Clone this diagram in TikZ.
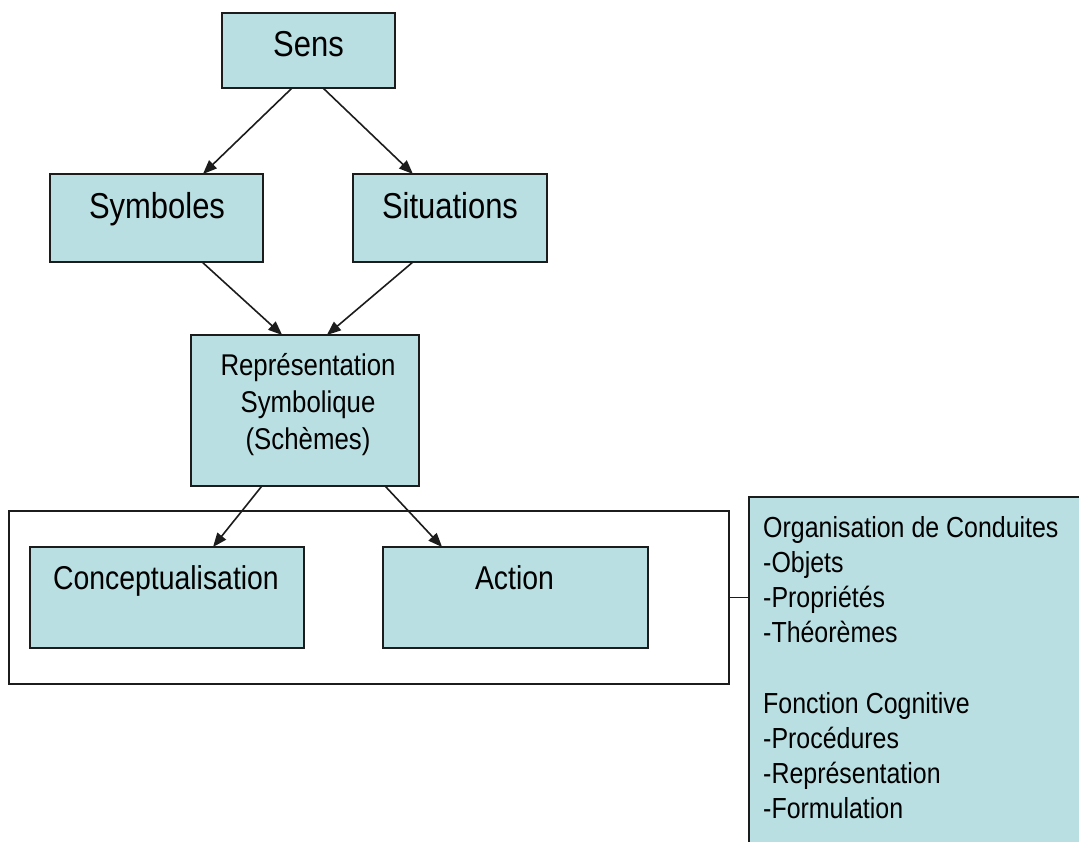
\documentclass[tikz,border=0pt]{standalone}
\usepackage{fontspec}
\newfontfamily\diagfont{Liberation Sans}[FakeStretch=0.86]
\usetikzlibrary{arrows.meta,calc}
\definecolor{boxfill}{RGB}{185,223,226}
\definecolor{edge}{RGB}{28,28,28}
\begin{document}
\begin{tikzpicture}[x=1pt,y=-1pt,
  box/.style={rectangle, draw=edge, line width=1.6pt, fill=boxfill, inner sep=0pt, outer sep=0pt},
  frame/.style={rectangle, draw=edge, line width=1.6pt, inner sep=0pt, outer sep=0pt},
  big/.style={font=\diagfont\fontsize{36}{40}\selectfont, inner sep=0pt, anchor=base},
  mid/.style={font=\diagfont\fontsize{33}{37}\selectfont, inner sep=0pt, anchor=base},
  small/.style={font=\diagfont\fontsize{30}{35}\selectfont, inner sep=0pt, anchor=base},
  list/.style={font=\diagfont\fontsize{29}{35}\selectfont, inner sep=0pt, anchor=base west},
  link/.style={draw=edge, line width=1.6pt, -{Triangle[length=14pt,width=11pt]}},
  tie/.style={draw=edge, line width=1.6pt}
]
\useasboundingbox (0,0) rectangle (1079,841);
\clip (0,0) rectangle (1079,841);

% boxes
\node[box, minimum width=173pt, minimum height=75pt]  (sens) at (308.5,50.5) {};
\node[box, minimum width=213pt, minimum height=88pt]  (sym)  at (156.5,218) {};
\node[box, minimum width=194pt, minimum height=88pt]  (sit)  at (450,218) {};
\node[box, minimum width=228pt, minimum height=151pt] (rep)  at (305,410.5) {};
\node[frame, minimum width=720pt, minimum height=173pt] (grp) at (369,597.5) {};
\node[box, minimum width=274pt, minimum height=101pt] (conc) at (167,597.5) {};
\node[box, minimum width=265pt, minimum height=101pt] (act)  at (515.5,597.5) {};
\node[box, minimum width=346pt, minimum height=363pt] (info) at (922,678.5) {};

% labels
\node[big] (sens-t) at (308.5,56) {Sens};
\node[big] (sym-t)  at (157,218) {Symboles};
\node[big] (sit-t)  at (450,218) {Situations};
\node[small] (rep-a) at (308,375) {Représentation};
\node[small] (rep-b) at (308,412) {Symbolique};
\node[small] (rep-c) at (308,449) {(Schèmes)};
\node[mid] (conc-t) at (166,589) {Conceptualisation};
\node[mid] (act-t)  at (514.5,589) {Action};

\foreach \txt [count=\i] in {Organisation de Conduites,-Objets,-Propriétés,-Théorèmes}
  \node[list] (org-\i) at (763,{537+35*(\i-1)}) {\txt};
\foreach \txt [count=\i] in {Fonction Cognitive,-Procédures,-Représentation,-Formulation}
  \node[list] (fct-\i) at (763,{713+35*(\i-1)}) {\txt};

% arrows
\draw[link] ($(sens.south west)!0.405!(sens.south east)$) -- ($(sym.north west)!0.718!(sym.north east)$);
\draw[link] ($(sens.south west)!0.584!(sens.south east)$) -- ($(sit.north west)!0.309!(sit.north east)$);
\draw[link] ($(sym.south west)!0.714!(sym.south east)$) -- ($(rep.north west)!0.40!(rep.north east)$);
\draw[link] ($(sit.south west)!0.309!(sit.south east)$) -- ($(rep.north west)!0.596!(rep.north east)$);
\draw[link] ($(rep.south west)!0.311!(rep.south east)$) -- ($(conc.north west)!0.668!(conc.north east)$);
\draw[link] ($(rep.south west)!0.851!(rep.south east)$) -- ($(act.north west)!0.223!(act.north east)$);

% group frame tied to the side panel
\draw[tie] (grp.east) -- (info.west |- grp.east);
\end{tikzpicture}
\end{document}
